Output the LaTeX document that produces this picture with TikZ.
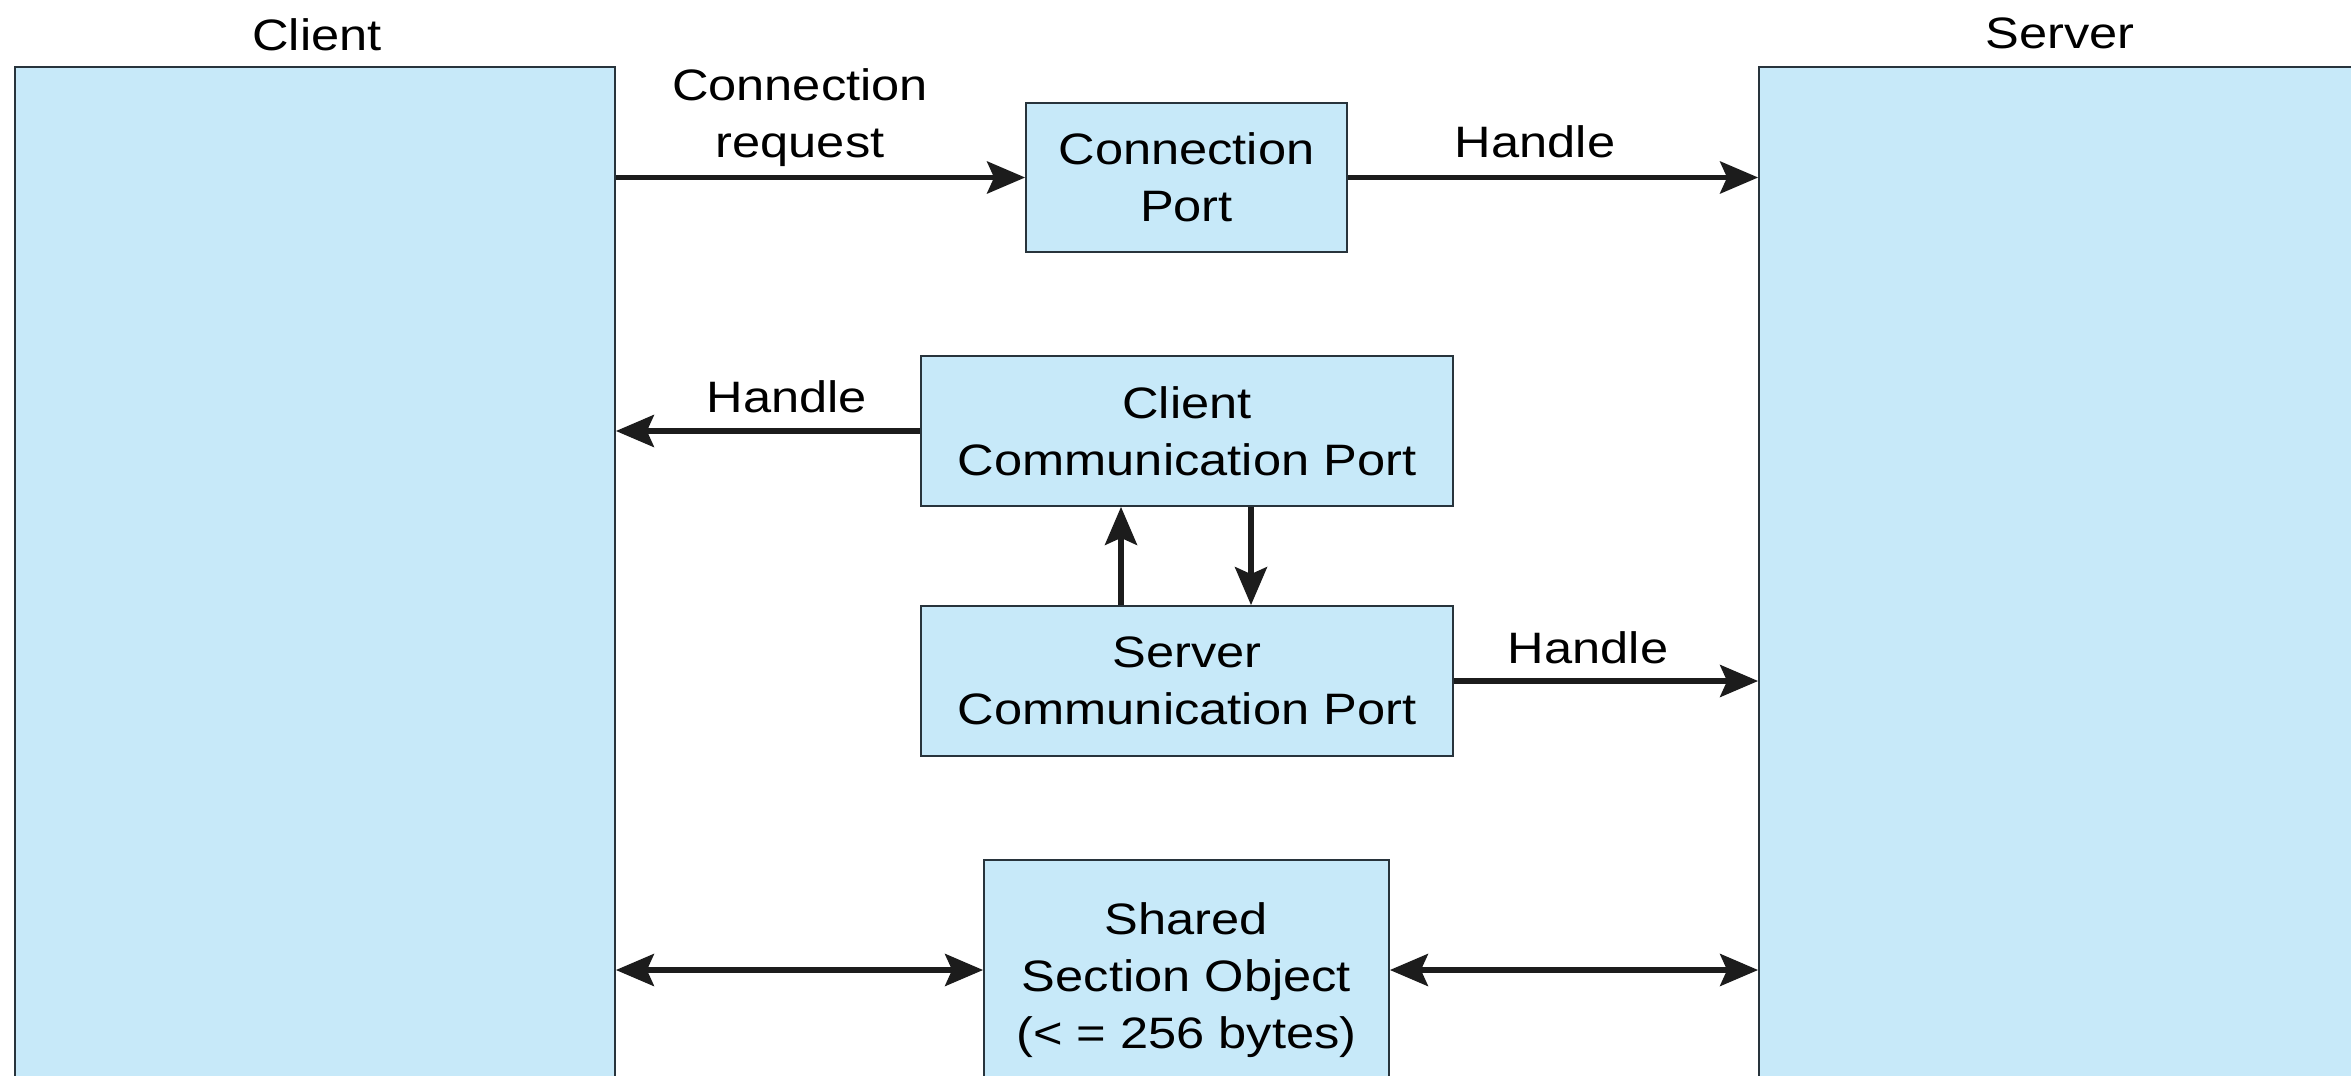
\documentclass[tikz,border=0pt]{standalone}
\usepackage{fontspec}
\setmainfont{Liberation Sans}[FakeStretch=1.15]
\usetikzlibrary{arrows.meta}
\definecolor{boxfill}{RGB}{199,233,249}
\definecolor{boxline}{RGB}{40,52,60}
\definecolor{arrowcol}{RGB}{28,28,28}
\begin{document}
\begin{tikzpicture}[x=0.5pt,y=-0.5pt,
  font=\fontsize{22pt}{28.5pt}\selectfont,
  box/.style={draw=boxline, fill=boxfill, line width=0.9pt, inner sep=0pt, align=center},
  lbl/.style={inner sep=0pt, align=center},
  arr/.style={draw=arrowcol, line width=2.7pt, -{Stealth[length=19pt,width=16pt,inset=3.5pt]}},
  darr/.style={draw=arrowcol, line width=2.7pt, {Stealth[length=19pt,width=16pt,inset=3.5pt]}-{Stealth[length=19pt,width=16pt,inset=3.5pt]}}]
\useasboundingbox (0,0) rectangle (2351,1076);
\clip (0,0) rectangle (2351,1076);
\fill[white] (0,0) rectangle (2351,1076);

% big boxes
\node[box, minimum width=300pt, minimum height=511.5pt] (client) at (315,578.5) {};
\node[box, minimum width=300.5pt, minimum height=511.5pt] (server) at (2059.5,578.5) {};
\node[lbl] (clientlbl) at (317,35) {Client};
\node[lbl] (serverlbl) at (2060,33) {Server};

% inner boxes
\node[box, minimum width=160.5pt, minimum height=74.5pt] (cport) at (1186.5,177.5) {Connection\\Port};
\node[box, minimum width=266pt, minimum height=75pt] (ccport) at (1187,431) {Client\\Communication Port};
\node[box, minimum width=266pt, minimum height=75pt] (scport) at (1187,681) {Server\\Communication Port};
\node[box, minimum width=202.5pt, minimum height=115pt] (shared) at (1186.5,975) {};
\node[lbl] (sharedtxt) at (1186.5,980) {Shared\\Section Object\\(< = 256 bytes)};

% labels
\node[lbl] (connreq) at (800,118) {Connection\\request};
\node[lbl] (h1) at (1535,142) {Handle};
\node[lbl] (h2) at (787,397) {Handle};
\node[lbl] (h3) at (1588,648) {Handle};

% connectors
\draw[arr] (client.east |- cport.west) -- (cport.west);
\draw[arr] (cport.east) -- (server.west |- cport.east);
\draw[arr] (ccport.west) -- (client.east |- ccport.west);
\draw[arr] ([xshift=-33pt]scport.north) -- ([xshift=-33pt]ccport.south);
\draw[arr] ([xshift=32pt]ccport.south) -- ([xshift=32pt]scport.north);
\draw[arr] (scport.east) -- (server.west |- scport.east);
\coordinate (sharedmid) at (1186.5,970);
\draw[darr] (client.east |- sharedmid) -- (shared.west |- sharedmid);
\draw[darr] (shared.east |- sharedmid) -- (server.west |- sharedmid);
\end{tikzpicture}
\end{document}
